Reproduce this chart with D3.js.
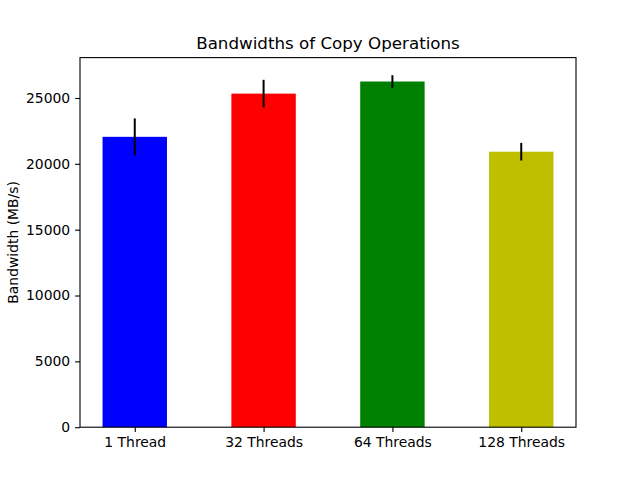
<!DOCTYPE html>
<html><head><meta charset="utf-8">
<script src="https://cdn.jsdelivr.net/npm/d3@7"></script>
<style>body{margin:0;background:#fff}svg{display:block;font-family:"DejaVu Sans",sans-serif}</style>
</head><body><svg id="c" width="640" height="480"></svg>
<script>
const categories = ["1 Thread", "32 Threads", "64 Threads", "128 Threads"];
const values = [22050, 25330, 26250, 20920];
const errors = [1400, 1050, 480, 670];
const colors = ["#0000ff", "#ff0000", "#008000", "#bfbf00"];
const yTicks = [0, 5000, 10000, 15000, 20000, 25000];

const svg = d3.select("#c");
const L = 80, R = 576, T = 57.6, B = 427.2;
const x = d3.scaleLinear().domain([-0.425, 3.425]).range([L, R]);
const yMax = d3.max(values.map((v, i) => v + errors[i])) * 1.05;
const y = d3.scaleLinear().domain([0, yMax]).range([B, T]);
const bw = 0.5;

svg.append("g").selectAll("rect").data(values).join("rect")
  .attr("x", (d, i) => x(i - bw / 2)).attr("width", (d, i) => x(i + bw / 2) - x(i - bw / 2))
  .attr("y", d => y(d)).attr("height", d => B - y(d))
  .attr("fill", (d, i) => colors[i]);

svg.append("g").selectAll("line").data(values).join("line")
  .attr("x1", (d, i) => x(i)).attr("x2", (d, i) => x(i))
  .attr("y1", (d, i) => y(d - errors[i])).attr("y2", (d, i) => y(d + errors[i]))
  .attr("stroke", "#000").attr("stroke-width", 2);

const yAxis = svg.append("g").attr("transform", `translate(${L},0)`)
  .call(d3.axisLeft(y).tickValues(yTicks).tickFormat(d3.format("d")).tickSize(4.9).tickPadding(4.9));
const xAxis = svg.append("g").attr("transform", `translate(0,${B})`)
  .call(d3.axisBottom(x).tickValues(categories.map((c, i) => i)).tickFormat(i => categories[i]).tickSize(4.9).tickPadding(4.9));
[yAxis, xAxis].forEach(a => {
  a.select(".domain").remove();
  a.selectAll("text").attr("font-size", 13.9).attr("fill", "#000").attr("font-family", "DejaVu Sans");
  a.selectAll("line").attr("stroke", "#000").attr("stroke-width", 1.1);
});

svg.append("rect").attr("x", L).attr("y", T).attr("width", R - L).attr("height", B - T)
  .attr("fill", "none").attr("stroke", "#000").attr("stroke-width", 1.1);

svg.append("text").attr("x", (L + R) / 2).attr("y", 48.5).attr("text-anchor", "middle")
  .attr("font-size", 16.7).text("Bandwidths of Copy Operations");
svg.append("text").attr("transform", `translate(17.5,${(T + B) / 2}) rotate(-90)`)
  .attr("text-anchor", "middle").attr("font-size", 13.9).text("Bandwidth (MB/s)");
</script></body></html>
